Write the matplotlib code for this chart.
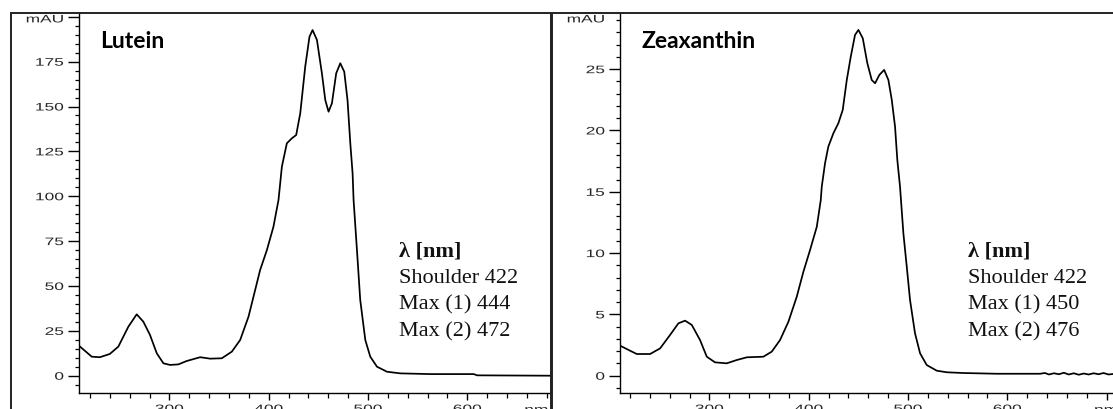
import matplotlib
matplotlib.use("Agg")
import matplotlib.pyplot as plt
from matplotlib.patches import Rectangle
from matplotlib.patheffects import AbstractPathEffect
from matplotlib.transforms import Affine2D
from matplotlib.ticker import MultipleLocator

# ---------------- data ----------------
lutein_nm = [209, 221.8, 230, 240, 248.6, 258.7, 267.1, 273.8, 280.5, 287.3, 294, 300.7,
             309, 317.5, 331, 341, 352.8, 362.9, 371.3, 379.7, 384.7, 391.4, 398.2, 404.8,
             409.9, 413.3, 418.3, 423.4, 427.7, 431.8, 436.8, 441.1, 444.2, 448.6, 453.6,
             457, 460.3, 463.7, 468, 472.1, 476.1, 479.4, 482.2, 484.5, 485.5, 488.9,
             492.2, 497.3, 502.3, 509.1, 519.2, 532.6, 562.8, 606.5, 609.9, 683.8]
lutein_mau = [16.7, 10.6, 10.3, 12.1, 16.2, 27.3, 34.2, 30.1, 22.7, 12.5, 6.9, 6.0,
              6.3, 8.2, 10.3, 9.5, 9.7, 13.4, 19.9, 32.9, 44.0, 58.9, 70.0, 83.0,
              97.9, 116.5, 129.5, 132.3, 134.1, 146.2, 172.2, 188.9, 192.6, 187.1, 168.5,
              153.6, 147.1, 151.8, 168.5, 174.1, 169.4, 153.6, 129.5, 112.8, 97.9, 70.0,
              42.2, 19.9, 10.6, 5.0, 2.2, 1.3, 0.9, 0.9, 0.2, 0.0]

zea_nm = [210.1, 220.1, 226.9, 240.3, 250.4, 260.4, 268.8, 275.5, 282.3, 290.6, 297.4,
          305.7, 317.5, 327.6, 337.7, 354.4, 362.8, 371.2, 379.6, 388, 394.7, 401.4,
          408.2, 412.2, 413.2, 416.5, 419.8, 424.9, 429.9, 434.3, 438.4, 442.4, 446.7,
          450.1, 454.5, 459.1, 463.5, 466.9, 471.2, 476, 480.3, 483.7, 487, 489.3, 492,
          495.4, 498.8, 502.1, 507.1, 512.2, 518.9, 529, 539.1, 555.8, 589.4, 633,
          638, 642, 647, 652, 657, 662, 667, 672, 677, 682, 687, 692, 697, 702, 706.5]
zea_mau = [2.45, 2.04, 1.77, 1.77, 2.23, 3.32, 4.27, 4.49, 4.14, 2.91, 1.55,
           1.09, 1.01, 1.28, 1.50, 1.55, 1.96, 2.91, 4.40, 6.44, 8.48, 10.25,
           12.15, 14.33, 15.42, 17.33, 18.68, 19.77, 20.59, 21.67, 24.12, 26.02, 27.79,
           28.20, 27.52, 25.48, 24.12, 23.85, 24.53, 24.94, 24.12, 22.49, 20.31, 17.59, 15.42,
           11.61, 8.89, 6.17, 3.46, 1.83, 0.87, 0.41, 0.28, 0.22, 0.16, 0.16,
           0.22, 0.10, 0.20, 0.12, 0.24, 0.10, 0.20, 0.08, 0.18, 0.10, 0.20, 0.12, 0.22, 0.10, 0.14]

panel_titles = ["Lutein", "Zeaxanthin"]
annot_header = "λ [nm]"
lutein_annot = ["Shoulder 422", "Max (1) 444", "Max (2) 472"]
zea_annot = ["Shoulder 422", "Max (1) 450", "Max (2) 476"]

lutein_yticks = [0, 25, 50, 75, 100, 125, 150, 175, 200]
zea_yticks = [0, 5, 10, 15, 20, 25]
xticks_major = [300, 400, 500, 600, 700]
xtick_labels = ["300", "400", "500", "600", ""]


class HStretch(AbstractPathEffect):
    """Stretch rendered text horizontally around an anchor."""
    def __init__(self, sx=1.7, anchor="center"):
        super().__init__()
        self.sx = sx
        self.anchor = anchor

    def draw_path(self, renderer, gc, tpath, affine, rgbFace=None):
        ext = tpath.get_extents(affine)
        if self.anchor == "right":
            a = ext.x1
        elif self.anchor == "left":
            a = ext.x0
        else:
            a = 0.5 * (ext.x0 + ext.x1)
        t = affine + Affine2D().translate(-a, 0).scale(self.sx, 1).translate(a, 0)
        renderer.draw_path(gc, tpath, t, rgbFace)


W, H = 1113, 409
fig = plt.figure(figsize=(W / 100, H / 100), dpi=100)

TICKC = "#262626"
SANS = "Liberation Sans"
SERIF = "Liberation Serif"
TSIZE = 7.8
STRETCH = 1.6


def px_rect(l, r, b, t):
    return [l / W, (H - b) / H, (r - l) / W, (b - t) / H]


# outer boxes
fig.add_artist(Rectangle((11 / W, -0.2), (550.5 - 11) / W, (H - 13) / H + 0.2,
                         transform=fig.transFigure, fill=False, lw=1.4, ec="#222222"))
fig.add_artist(Rectangle((551.5 / W, -0.2), 0.6, (H - 13) / H + 0.2,
                         transform=fig.transFigure, fill=False, lw=1.4, ec="#222222"))

ax1 = fig.add_axes(px_rect(79, 550.5, 393, 13))
ax2 = fig.add_axes(px_rect(620, 1113, 393, 13))

configs = [
    (ax1, lutein_nm, lutein_mau, (209, 683.8), (-9.64, 202.1), lutein_yticks, 5,
     panel_titles[0], lutein_annot, 0.679, 0.970),
    (ax2, zea_nm, zea_mau, (210, 706.5), (-1.41, 29.58), zea_yticks, 1,
     panel_titles[1], zea_annot, 0.706, 0.986),
]

for (ax, xs, ys, xlim, ylim, yt, yminor, title, ann, ann_x, nm_x) in configs:
    ax.plot(xs, ys, color="black", lw=1.25, solid_joinstyle="round")
    ax.set_xlim(*xlim)
    ax.set_ylim(*ylim)
    ax.set_yticks(yt)
    ax.set_yticklabels([str(v) if v != 200 else "" for v in yt])
    ax.yaxis.set_minor_locator(MultipleLocator(yminor))
    ax.set_xticks(xticks_major)
    ax.set_xticklabels(xtick_labels)
    ax.xaxis.set_minor_locator(MultipleLocator(20))
    ax.set_xlim(*xlim)
    ax.tick_params(axis="y", which="major", length=8, width=1, pad=3, colors="black",
                   labelcolor=TICKC, labelsize=TSIZE)
    ax.tick_params(axis="y", which="minor", length=3, width=0.9)
    ax.tick_params(axis="x", which="major", length=5, width=1, pad=3, labelcolor=TICKC,
                   labelsize=TSIZE)
    ax.tick_params(axis="x", which="minor", length=3.5, width=0.9)
    for lab in ax.get_yticklabels():
        lab.set_fontfamily(SANS)
        lab.set_path_effects([HStretch(STRETCH, "right")])
    for lab in ax.get_xticklabels():
        lab.set_fontfamily(SANS)
        lab.set_path_effects([HStretch(STRETCH, "center")])
    for s in ax.spines.values():
        s.set_linewidth(1.0)
    ax.spines["top"].set_visible(False)
    if ax is ax2:
        ax.spines["right"].set_visible(False)

    # axis unit labels
    ax.annotate("mAU", xy=(0, 1), xycoords="axes fraction", xytext=(-11, -1),
                textcoords="offset points", ha="right", va="top", fontsize=TSIZE,
                family=SANS, color=TICKC, path_effects=[HStretch(STRETCH, "right")],
                annotation_clip=False)
    ax.annotate("nm", xy=(nm_x, 0), xycoords="axes fraction", xytext=(0, -8.5),
                textcoords="offset points", ha="center", va="top", fontsize=TSIZE,
                family=SANS, color=TICKC, path_effects=[HStretch(STRETCH, "center")],
                annotation_clip=False)

    # title
    ax.text(0.044, 0.907, title, transform=ax.transAxes, fontsize=16.5,
            fontweight="bold", family="Lato", ha="left", va="baseline", color="black")

    # annotation block
    ax.text(ann_x, 0.359, annot_header, transform=ax.transAxes, fontsize=16,
            fontweight="bold", family=SERIF, ha="left", va="baseline", color="#111111")
    for i, line in enumerate(ann):
        ax.text(ann_x, 0.289 - i * 0.0703, line, transform=ax.transAxes, fontsize=16,
                family=SERIF, ha="left", va="baseline", color="#111111")

fig.savefig("out.png", dpi=100)
